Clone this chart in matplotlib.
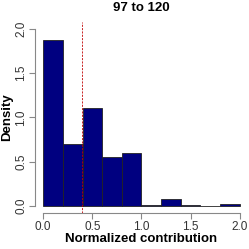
import numpy as np
import matplotlib
matplotlib.use('Agg')
import matplotlib.pyplot as plt

plt.rcParams['font.family'] = ['Liberation Sans', 'DejaVu Sans']

# histogram bins (width 0.2) and densities
edges = [0.0, 0.2, 0.4, 0.6, 0.8, 1.0, 1.2, 1.4, 1.6, 1.8, 2.0]
density = [1.87, 0.70, 1.10, 0.555, 0.60, 0.008, 0.075, 0.01, 0.0, 0.022]
cutoff = 0.395
title = '97 to 120'

fig = plt.figure(figsize=(2.49, 2.49), dpi=100)
ax = fig.add_axes([0.142, 0.145, 0.852, 0.768])

lefts = np.array(edges[:-1])
widths = np.diff(edges)
ax.bar(lefts, density, width=widths, align='edge', color='#000080',
       edgecolor='#222222', linewidth=0.6)
ax.axvline(cutoff, color='#c00000', linestyle=(0, (2.5, 1.5)), linewidth=0.6)

ax.set_xlim(-0.08, 2.08)
ax.set_ylim(-0.08, 2.08)
ax.set_xticks([0.0, 0.5, 1.0, 1.5, 2.0])
ax.set_yticks([0.0, 0.5, 1.0, 1.5, 2.0])
ax.set_xticklabels(['0.0', '0.5', '1.0', '1.5', '2.0'])
ax.set_yticklabels(['0.0', '0.5', '1.0', '1.5', '2.0'], rotation=90, va='center')

for s in ['top', 'right']:
    ax.spines[s].set_visible(False)
ax.spines['left'].set_bounds(0, 2)
ax.spines['bottom'].set_bounds(0, 2)
for s in ['left', 'bottom']:
    ax.spines[s].set_color('#888888')
    ax.spines[s].set_linewidth(0.8)
ax.tick_params(axis='both', length=4, width=0.8, color='#888888',
               labelsize=8.5, labelcolor='#333333', pad=2)

ax.set_title(title, fontsize=9.5, fontweight='bold', pad=8)
ax.set_xlabel('Normalized contribution', fontsize=9.5, fontweight='bold')
ax.set_ylabel('Density', fontsize=9.5, fontweight='bold')
ax.xaxis.set_label_coords(0.5, -0.105)
ax.yaxis.set_label_coords(-0.103, 0.5)

fig.savefig('out.png', dpi=100)
